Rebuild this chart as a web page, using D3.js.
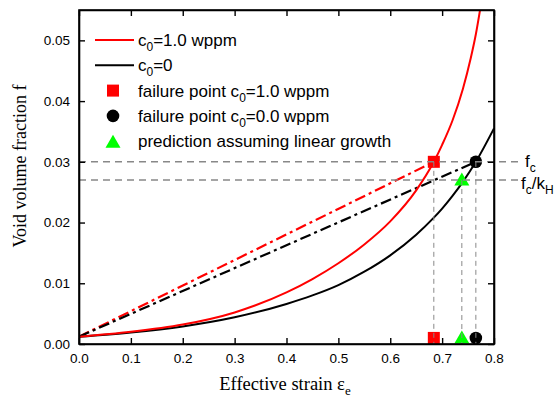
<!DOCTYPE html>
<html>
<head>
<meta charset="utf-8">
<script src="https://cdn.jsdelivr.net/npm/d3@7"></script>
<style>
  body { margin: 0; background: #fff; }
  svg { display: block; }
</style>
</head>
<body>
<svg id="chart" width="554" height="399"></svg>
<script>
// data
const redCurve = [[0, 0.0012], [0.1, 0.0020], [0.2, 0.0032], [0.3, 0.0052], [0.4, 0.0085],
  [0.45, 0.0107], [0.5, 0.0133], [0.55, 0.0164], [0.6, 0.0202], [0.65, 0.0253], [0.684, 0.0300],
  [0.7, 0.0328], [0.72, 0.0368], [0.74, 0.0420], [0.755, 0.0470], [0.765, 0.0510], [0.775, 0.0560]];
const blackCurve = [[0, 0.0012], [0.1, 0.0019], [0.2, 0.0029], [0.3, 0.0044], [0.4, 0.0066],
  [0.45, 0.0080], [0.5, 0.0097], [0.55, 0.0119], [0.6, 0.0146], [0.65, 0.0180], [0.684, 0.0208],
  [0.7, 0.0223], [0.72, 0.0244], [0.74, 0.0267], [0.765, 0.0300], [0.8, 0.0355]];
const redLinear = [[0, 0.0012], [0.684, 0.030]];
const blackLinear = [[0, 0.0012], [0.765, 0.030]];
const fc = 0.030;
const fcKH = 0.027;
const failRed = [0.684, 0.030];
const failBlack = [0.765, 0.030];
const predGreen = [0.738, 0.027];
const bottomY = 0.001;
const xTicks = [0, 0.1, 0.2, 0.3, 0.4, 0.5, 0.6, 0.7, 0.8];
const yTicks = [0, 0.01, 0.02, 0.03, 0.04, 0.05];
const legendLabels = ["1.0 wppm", "0", "failure point c", "failure point c", "prediction assuming linear growth"];

const svg = d3.select("#chart");
const mLeft = 79, mRight = 494, mTop = 10, mBottom = 344;

const x = d3.scaleLinear().domain([0, 0.8]).range([mLeft, mRight]);
const y = d3.scaleLinear().domain([0, 0.055]).range([mBottom, mTop]);

const sans = "Arial, 'Liberation Sans', sans-serif";
const serif = "'Times New Roman', 'Liberation Serif', serif";

svg.append("defs").append("clipPath")
  .attr("id", "plot-clip")
  .append("rect")
  .attr("x", mLeft).attr("y", mTop)
  .attr("width", mRight - mLeft).attr("height", mBottom - mTop);

const plot = svg.append("g").attr("clip-path", "url(#plot-clip)");

const line = d3.line().x(d => x(d[0])).y(d => y(d[1]));
const smooth = d3.line().x(d => x(d[0])).y(d => y(d[1])).curve(d3.curveMonotoneX);

// linear growth predictions (dash-dot)
plot.append("path").attr("d", line(redLinear))
  .attr("fill", "none").attr("stroke", "#ff0000").attr("stroke-width", 2.2)
  .attr("stroke-dasharray", "11,4,3,4");
plot.append("path").attr("d", line(blackLinear))
  .attr("fill", "none").attr("stroke", "#000").attr("stroke-width", 2.2)
  .attr("stroke-dasharray", "11,4,3,4");

// void growth curves
plot.append("path").attr("d", smooth(blackCurve))
  .attr("fill", "none").attr("stroke", "#000").attr("stroke-width", 2);
plot.append("path").attr("d", smooth(redCurve))
  .attr("fill", "none").attr("stroke", "#ff0000").attr("stroke-width", 2);

// markers
function square(g, p) {
  g.append("rect")
    .attr("x", x(p[0]) - 6).attr("y", y(p[1]) - 6)
    .attr("width", 12).attr("height", 12)
    .attr("fill", "#ff0000");
}
function circle(g, p) {
  g.append("circle")
    .attr("cx", x(p[0])).attr("cy", y(p[1])).attr("r", 6.3)
    .attr("fill", "#000");
}
function triangle(g, p) {
  g.append("path")
    .attr("transform", `translate(${x(p[0])},${y(p[1])})`)
    .attr("d", "M0,-7.5L7.5,5.5L-7.5,5.5Z")
    .attr("fill", "#00ff00");
}
const marks = svg.append("g");
square(marks, failRed);
circle(marks, failBlack);
triangle(marks, predGreen);
square(marks, [failRed[0], bottomY]);
circle(marks, [failBlack[0], bottomY]);
triangle(marks, [predGreen[0], bottomY]);

// guide lines
const guides = svg.append("g").attr("stroke", "#888").attr("fill", "none");
[fc, fcKH].forEach(v => {
  guides.append("line")
    .attr("x1", x(0)).attr("x2", 518)
    .attr("y1", y(v)).attr("y2", y(v))
    .attr("stroke-width", 1.5).attr("stroke-dasharray", "7,5");
});
[failRed, predGreen, failBlack].forEach(p => {
  guides.append("line")
    .attr("x1", x(p[0])).attr("x2", x(p[0]))
    .attr("y1", y(p[1])).attr("y2", mBottom)
    .attr("stroke-width", 1).attr("stroke-dasharray", "5,4");
});

// axes, all ticks inward
svg.append("g").attr("transform", `translate(0,${mBottom})`)
  .call(d3.axisBottom(x).tickValues(xTicks).tickSizeInner(-6).tickSizeOuter(0).tickPadding(9).tickFormat(d3.format(".1f")));
svg.append("g").attr("transform", `translate(0,${mTop})`)
  .call(d3.axisTop(x).tickValues(xTicks).tickSizeInner(-6).tickSizeOuter(0).tickFormat(""));
svg.append("g").attr("transform", `translate(${mLeft},0)`)
  .call(d3.axisLeft(y).tickValues(yTicks).tickSizeInner(-6).tickSizeOuter(0).tickPadding(9).tickFormat(d3.format(".2f")));
svg.append("g").attr("transform", `translate(${mRight},0)`)
  .call(d3.axisRight(y).tickValues(yTicks).tickSizeInner(-6).tickSizeOuter(0).tickFormat(""));

svg.selectAll(".domain").attr("stroke", "#000").attr("stroke-width", 1.6);
svg.selectAll(".tick line").attr("stroke", "#000").attr("stroke-width", 1.4);
svg.selectAll(".tick text").attr("font-family", sans).attr("font-size", 13.5).attr("fill", "#000");

// frame
svg.append("rect")
  .attr("x", mLeft).attr("y", mTop).attr("width", mRight - mLeft).attr("height", mBottom - mTop)
  .attr("fill", "none").attr("stroke", "#000").attr("stroke-width", 1.6);

// axis titles
const xt = svg.append("text")
  .attr("x", 285).attr("y", 390)
  .attr("text-anchor", "middle")
  .attr("font-family", serif).attr("font-size", 18.5);
xt.append("tspan").text("Effective strain ε");
xt.append("tspan").attr("dy", 5).attr("font-size", 13).text("e");

svg.append("text")
  .attr("transform", `translate(26,166) rotate(-90)`)
  .attr("text-anchor", "middle")
  .attr("font-family", serif).attr("font-size", 18)
  .text("Void volume fraction f");

// right-hand labels
const fcLabel = svg.append("text").attr("x", 525).attr("y", 167)
  .attr("font-family", sans).attr("font-size", 17);
fcLabel.append("tspan").text("f");
fcLabel.append("tspan").attr("dy", 5).attr("font-size", 12).text("c");

const khLabel = svg.append("text").attr("x", 521).attr("y", 189)
  .attr("font-family", sans).attr("font-size", 17);
khLabel.append("tspan").text("f");
khLabel.append("tspan").attr("dy", 5).attr("font-size", 12).text("c");
khLabel.append("tspan").attr("dy", -5).text("/k");
khLabel.append("tspan").attr("dy", 5).attr("font-size", 12).text("H");

// legend
const legend = svg.append("g");
const rowY = i => 40 + i * 25.3;
const textX = 138;

legend.append("line").attr("x1", 95).attr("x2", 134).attr("y1", rowY(0)).attr("y2", rowY(0))
  .attr("stroke", "#ff0000").attr("stroke-width", 2);
legend.append("line").attr("x1", 95).attr("x2", 134).attr("y1", rowY(1)).attr("y2", rowY(1))
  .attr("stroke", "#000").attr("stroke-width", 2);
square(legend, [x.invert(113), y.invert(rowY(2))]);
circle(legend, [x.invert(113), y.invert(rowY(3))]);
triangle(legend, [x.invert(113), y.invert(rowY(4) + 1)]);

function subText(i, before, sub, after) {
  const t = legend.append("text").attr("x", textX).attr("y", rowY(i) + 6)
    .attr("font-family", sans).attr("font-size", 17).attr("fill", "#000");
  t.append("tspan").text(before);
  if (sub !== null) {
    t.append("tspan").attr("dy", 5).attr("font-size", 12).text(sub);
    t.append("tspan").attr("dy", -5).text(after);
  }
}
subText(0, "c", "0", "=" + legendLabels[0]);
subText(1, "c", "0", "=" + legendLabels[1]);
subText(2, legendLabels[2], "0", "=1.0 wppm");
subText(3, legendLabels[3], "0", "=0.0 wppm");
subText(4, legendLabels[4], null, "");
</script>
</body>
</html>
